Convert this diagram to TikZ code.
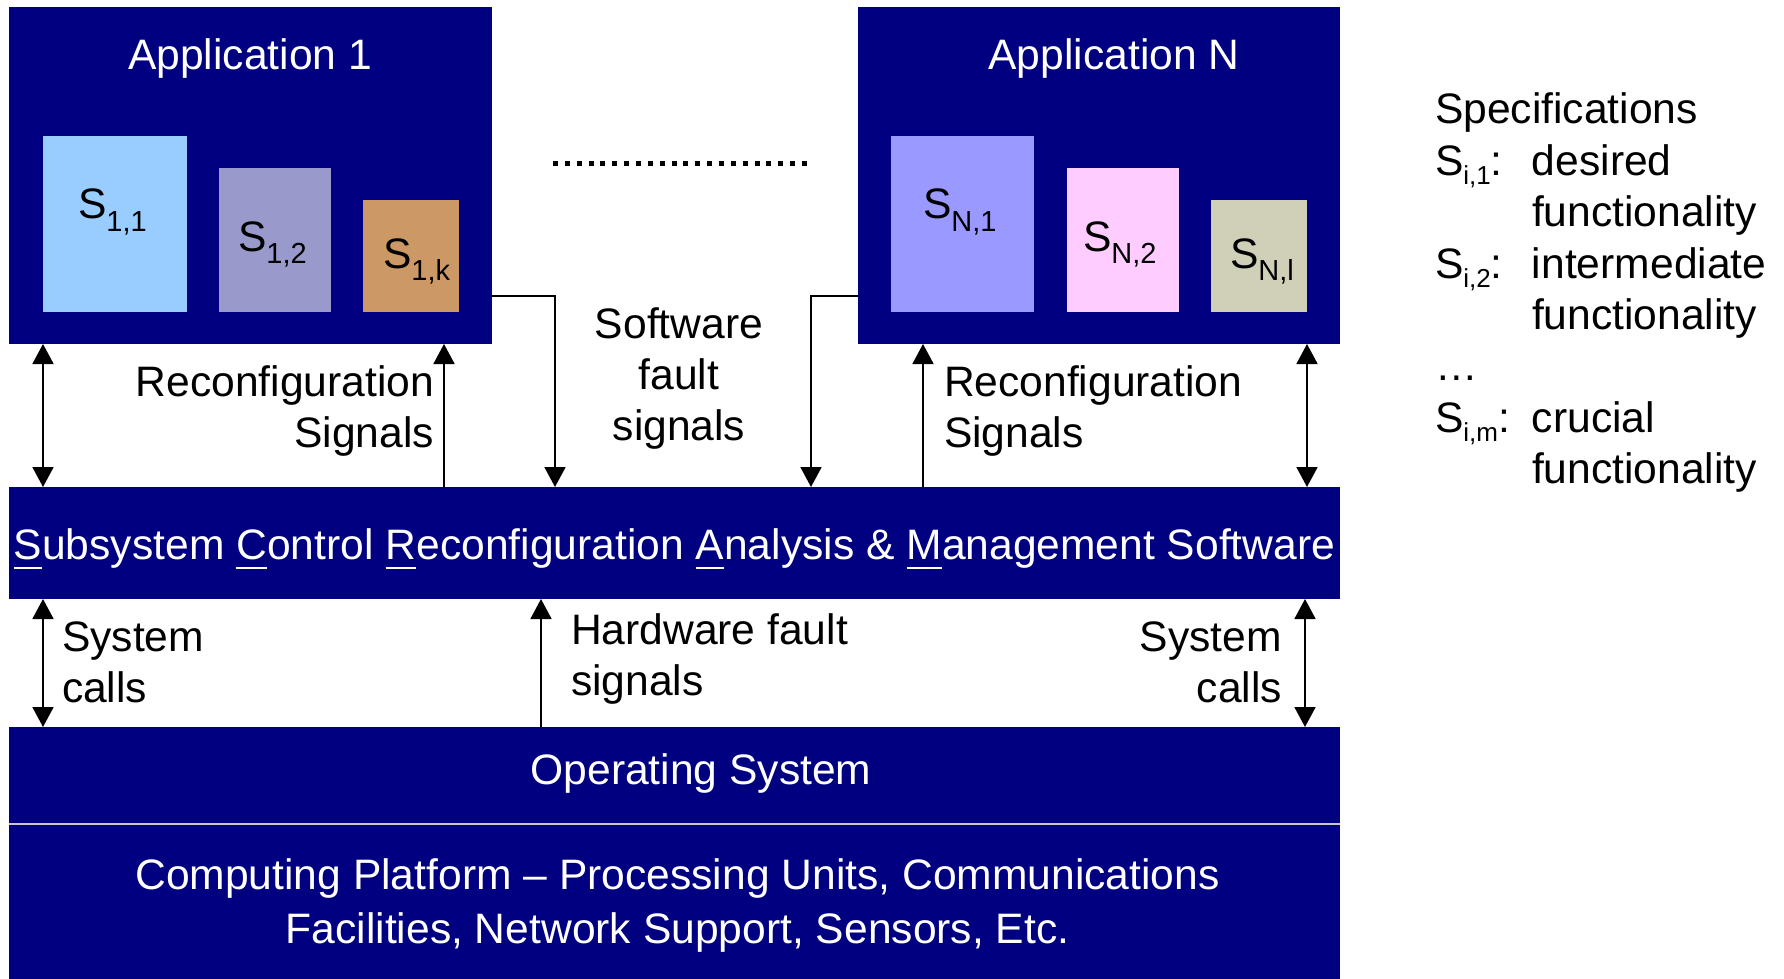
\documentclass[tikz,border=0pt]{standalone}
\usepackage{fontspec}
\setmainfont{Liberation Sans}
\usetikzlibrary{arrows.meta,fit}

\definecolor{navy}{HTML}{000080}
\definecolor{specA}{HTML}{99CCFF}
\definecolor{specB}{HTML}{9999CC}
\definecolor{specK}{HTML}{CC9966}
\definecolor{specNA}{HTML}{9999FF}
\definecolor{specNB}{HTML}{FFCCFF}
\definecolor{specNL}{HTML}{D0D0B8}
\definecolor{sepgray}{HTML}{C8C8C8}

% subscripts: inside the spec boxes and in the legend
\newcommand\sbs[1]{\raisebox{-6pt}{\fontsize{14.5}{14.5}\selectfont #1}}
\newcommand\lsbs[1]{\raisebox{-4.5pt}{\fontsize{13}{13}\selectfont #1}}
% underlined initial letter of the acronym
\newcommand\ulx[1]{\setbox0\hbox{#1}\rlap{\rule[-5.2pt]{\wd0}{1.2pt}}\box0}
% fixed-width first column of the legend
\newcommand\lkey[1]{\makebox[48.5pt][l]{#1}}

\tikzset{
  panel/.style={fill=navy, inner sep=0pt, outer sep=0pt},
  specbox/.style={inner sep=0pt, outer sep=0pt},
  lbl/.style={inner sep=0pt, outer sep=0pt, font=\fontsize{21.3}{25.5}\selectfont},
  wlbl/.style={lbl, text=white},
  arr/.style={line width=0.9pt, -{Triangle[length=10pt,width=10.5pt]}},
  dblarr/.style={line width=0.9pt,
    {Triangle[length=10pt,width=10.5pt]}-{Triangle[length=10pt,width=10.5pt]}},
}

\begin{document}
\begin{tikzpicture}[x=0.5pt,y=-0.5pt]
\useasboundingbox (0,0) rectangle (1784,979);

% application panels
\node[panel, fit={(9,7) (492,344)}] (app1) {};
\node[panel, fit={(858,7) (1340,344)}] (appN) {};
\node[wlbl, anchor=base] (app1t) at (250,70) {Application 1};
\node[wlbl, anchor=base] (appNt) at (1114,70) {Application N};

% specification boxes
\node[specbox, fill=specA,  fit={(43,136) (187,312)}]   (s11) {};
\node[specbox, fill=specB,  fit={(219,168) (331,312)}]  (s12) {};
\node[specbox, fill=specK,  fit={(363,200) (459,312)}]  (s1k) {};
\node[specbox, fill=specNA, fit={(891,136) (1034,312)}] (sN1) {};
\node[specbox, fill=specNB, fit={(1067,168) (1179,312)}] (sN2) {};
\node[specbox, fill=specNL, fit={(1211,200) (1307,312)}] (sNl) {};
\node[lbl, anchor=base west] (s11t) at (78,219)   {S\sbs{1,1}};
\node[lbl, anchor=base west] (s12t) at (238,251)  {S\sbs{1,2}};
\node[lbl, anchor=base west] (s1kt) at (383,268)  {S\sbs{1,k}};
\node[lbl, anchor=base west] (sN1t) at (923,219)  {S\sbs{N,1}};
\node[lbl, anchor=base west] (sN2t) at (1083,251) {S\sbs{N,2}};
\node[lbl, anchor=base west] (sNlt) at (1230,268) {S\sbs{N,l}};

% dotted ellipsis between the applications
\coordinate (dotL) at (553,164);
\coordinate (dotR) at (808,164);
\draw[line width=2.5pt, dash pattern=on 2.5pt off 3.43pt] (dotL) -- (dotR);

% software layers
\node[panel, fit={(9,487) (1340,599)}] (scram) {};
\node[panel, fit={(9,727) (1340,824)}] (os) {};
\node[panel, fit={(9,824) (1340,979)}] (plat) {};
\draw[sepgray, line width=1pt] (os.south west) -- (os.south east);

\node[wlbl, anchor=base] (scramt) at (674.5,559)
  {\ulx{S}ubsystem \ulx{C}ontrol \ulx{R}econfiguration \ulx{A}nalysis \& \ulx{M}anagement Software};
\node[wlbl, anchor=base] (ost) at (701,784) {Operating System};
\node[wlbl, anchor=base] (platt) at (677.5,889)
  {\begin{tabular}[t]{@{}c@{}}Computing Platform -- Processing Units, Communications\\[1.5pt]
   Facilities, Network Support, Sensors, Etc.\end{tabular}};

% connector labels
\node[lbl, anchor=base east] (rcL) at (434,396)
  {\begin{tabular}[t]{@{}r@{}}Reconfiguration\\Signals\end{tabular}};
\node[lbl, anchor=base] (swf) at (679,338)
  {\begin{tabular}[t]{@{}c@{}}Software\\fault\\signals\end{tabular}};
\node[lbl, anchor=base west] (rcR) at (944,396)
  {\begin{tabular}[t]{@{}l@{}}Reconfiguration\\Signals\end{tabular}};
\node[lbl, anchor=base west] (scL) at (62,651)
  {\begin{tabular}[t]{@{}l@{}}System\\calls\end{tabular}};
\node[lbl, anchor=base west] (hwf) at (571,644)
  {\begin{tabular}[t]{@{}l@{}}Hardware fault\\signals\end{tabular}};
\node[lbl, anchor=base east] (scR) at (1282,651)
  {\begin{tabular}[t]{@{}r@{}}System\\calls\end{tabular}};

% legend
\node[lbl, anchor=base west, font=\fontsize{21.3}{25.7}\selectfont] (legend) at (1435,124)
  {\begin{tabular}[t]{@{}l@{}}Specifications\\
   \lkey{S\lsbs{i,1}:}desired\\
   \lkey{}functionality\\
   \lkey{S\lsbs{i,2}:}intermediate\\
   \lkey{}functionality\\
   \dots\\
   \lkey{S\lsbs{i,m}:}crucial\\
   \lkey{}functionality\end{tabular}};

% connector columns
\coordinate (xA) at (43,0);
\coordinate (xB) at (444,0);
\coordinate (xC) at (555,0);
\coordinate (xD) at (811,0);
\coordinate (xE) at (923,0);
\coordinate (xF) at (1307,0);
\coordinate (xG) at (541,0);
\coordinate (xH) at (1305,0);
\coordinate (ySW) at (0,296);

% connectors between applications and the management layer
\draw[dblarr] (app1.south -| xA) -- (scram.north -| xA);
\draw[arr] (scram.north -| xB) -- (app1.south -| xB);
\draw[arr] (app1.east |- ySW) -| (scram.north -| xC);
\draw[arr] (appN.west |- ySW) -| (scram.north -| xD);
\draw[arr] (scram.north -| xE) -- (appN.south -| xE);
\draw[dblarr] (appN.south -| xF) -- (scram.north -| xF);

% connectors between the management layer and the operating system
\draw[dblarr] (scram.south -| xA) -- (os.north -| xA);
\draw[arr] (os.north -| xG) -- (scram.south -| xG);
\draw[dblarr] (scram.south -| xH) -- (os.north -| xH);
\end{tikzpicture}
\end{document}
